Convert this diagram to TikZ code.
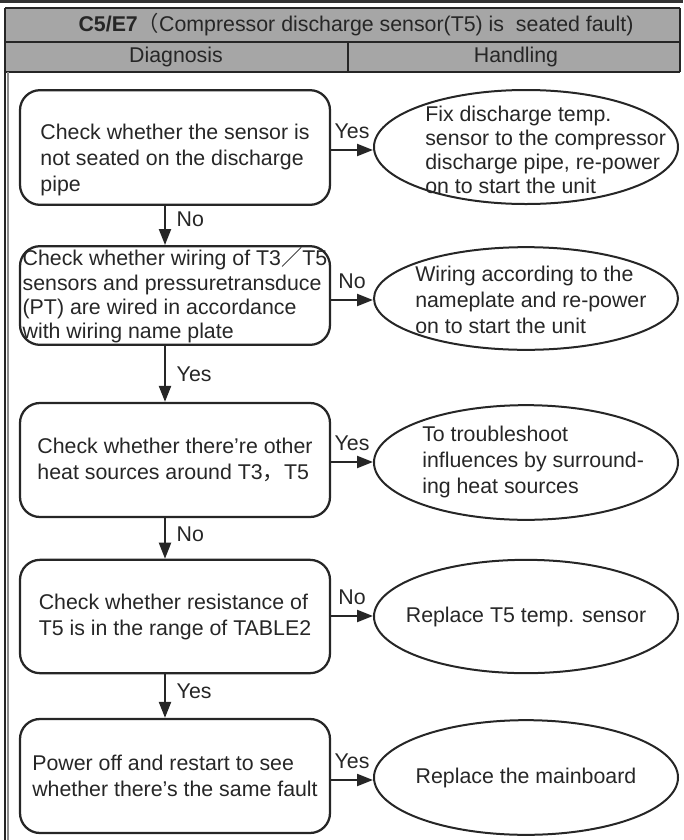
\documentclass[tikz,border=0pt]{standalone}
\usepackage{fontspec}
\setmainfont{Liberation Sans}
\newfontfamily\cjk{Noto Sans CJK SC}
\usetikzlibrary{arrows.meta,shapes.geometric}
\tikzset{
  hdrline/.style  = {line width=1.8pt, black!85},
  checkbox/.style = {draw=black!85, line width=1.7pt, rounded corners=15pt,
                     minimum width=232.5pt, inner sep=0pt, align=left},
  actell/.style   = {ellipse, draw=black!85, line width=1.5pt, inner sep=0pt,
                     minimum width=228pt},
  acttext/.style  = {inner sep=0pt, align=left},
  flowarr/.style  = {-{Triangle[length=12pt,width=9pt]}, line width=1.6pt, black!85},
  lbl/.style      = {inner sep=2pt}
}
\begin{document}
\begin{tikzpicture}[x=0.75pt,y=-0.75pt,font=\fontsize{16}{19.5}\selectfont,text=black!85]
  \useasboundingbox (0,0) rectangle (683,840);
  % header
  \fill[black!80] (0,0) rectangle (683,3);
  \fill[black!35] (5,8) rectangle (680,72);
  \draw[hdrline] (5,8) -- (680,8);
  \draw[hdrline] (5,42) -- (680,42);
  \draw[hdrline] (5,72) -- (680,72);
  \draw[hdrline] (348,42) -- (348,72);
  \draw[hdrline] (680,8) -- (680,72);
  \draw[hdrline] (5,8) -- (5,840);
  \draw[black!45,line width=0.8pt] (8,72) -- (8,840);
  \node (title) at (356,25) {\textbf{C5/E7}{\cjk （}Compressor discharge sensor(T5) is\ \ seated fault)};
  \node (diag) at (176,57) {Diagnosis};
  \node (hand) at (516,57) {Handling};
  % checks
  \node[checkbox,minimum height=86pt] (c1) at (175,147.5)
       {\rule{0pt}{31pt}Check whether the sensor is\\not seated on the discharge\\pipe};
  \node[checkbox,minimum height=74pt,font=\fontsize{16}{18.3}\selectfont] (c2) at (175,295.5)
       {Check whether wiring of T3{\cjk ／}T5\\sensors and pressuretransduce\\(PT) are wired in accordance\\with wiring name plate};
  \node[checkbox,minimum height=85.5pt] (c3) at (175,460)
       {Check whether there’re other\\heat sources around T3{\cjk ，}T5};
  \node[checkbox,minimum height=85pt] (c4) at (175,616.5)
       {Check whether resistance of\\T5 is in the range of TABLE2};
  \node[checkbox,minimum height=85.5pt] (c5) at (175,776)
       {Power off and restart to see\\whether there’s the same fault};
  % actions
  \node[actell,minimum height=85.5pt] (a1) at (526,147) {};
  \node[actell,minimum height=77pt] (a2) at (526,298.5) {};
  \node[actell,minimum height=86pt] (a3) at (526,462.5) {};
  \node[actell,minimum height=85pt] (a4) at (526,616.5) {};
  \node[actell,minimum height=86pt] (a5) at (526,777.5) {};
  \node[acttext,anchor=west,font=\fontsize{16}{18}\selectfont] (t1) at (425,150)
       {Fix discharge temp.\\sensor to the compressor\\discharge pipe, re-power\\on to start the unit};
  \node[acttext,anchor=west] (t2) at (415,300)
       {Wiring according to the\\nameplate and re-power\\on to start the unit};
  \node[acttext,anchor=west] (t3) at (422,462)
       {To troubleshoot\\influences by surround-\\ing heat sources};
  \node[acttext] (t4) at (a4) {Replace T5 temp. sensor};
  \node[acttext] (t5) at (a5) {Replace the mainboard};
  % flow
  \coordinate (ax) at (165,0);
  \draw[flowarr] (c1.south -| ax) -- (c2.north -| ax) node[lbl,anchor=west,pos=0.35,xshift=6pt] {No};
  \draw[flowarr] (c2.south -| ax) -- (c3.north -| ax) node[lbl,anchor=west,pos=0.5,xshift=6pt] {Yes};
  \draw[flowarr] (c3.south -| ax) -- (c4.north -| ax) node[lbl,anchor=west,pos=0.4,xshift=6pt] {No};
  \draw[flowarr] (c4.south -| ax) -- (c5.north -| ax) node[lbl,anchor=west,pos=0.4,xshift=6pt] {Yes};
  \draw[flowarr] (c1.east |- 0,150) -- (a1.west |- 0,150) node[lbl,above,midway,yshift=6pt] {Yes};
  \draw[flowarr] (c2.east |- 0,300) -- (a2.west |- 0,300) node[lbl,above,midway,yshift=6pt] {No};
  \draw[flowarr] (c3.east |- 0,462) -- (a3.west |- 0,462) node[lbl,above,midway,yshift=6pt] {Yes};
  \draw[flowarr] (c4.east |- 0,616) -- (a4.west |- 0,616) node[lbl,above,midway,yshift=6pt] {No};
  \draw[flowarr] (c5.east |- 0,780) -- (a5.west |- 0,780) node[lbl,above,midway,yshift=6pt] {Yes};
\end{tikzpicture}
\end{document}
